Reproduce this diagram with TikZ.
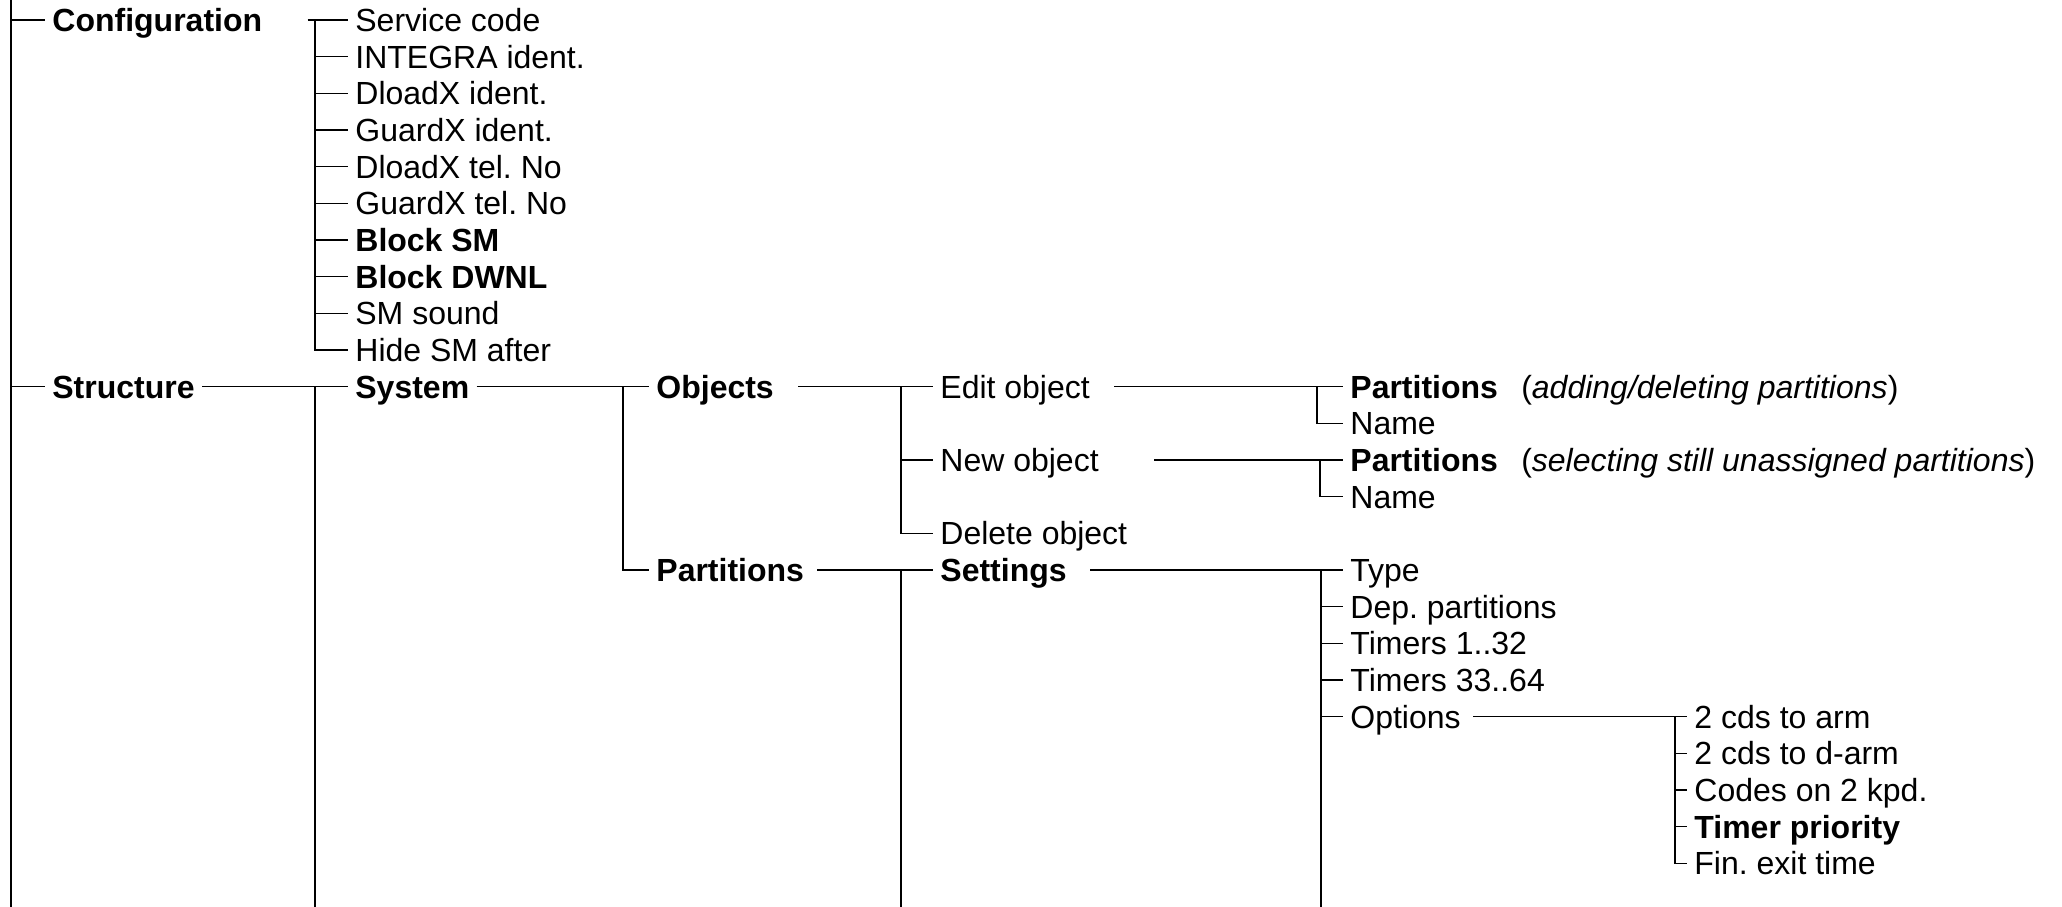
\documentclass[tikz,border=0pt]{standalone}
\usepackage{fontspec}
\setmainfont{Liberation Sans}
\usetikzlibrary{positioning}
\frenchspacing

\begin{document}
\begin{tikzpicture}[x=0.5pt, y=-18.333pt]
        \tikzstyle{item} = [anchor=west, inner xsep=3.5pt, inner ysep=0pt, text height=11.5pt, text depth=0pt, font=\fontsize{16pt}{19pt}\selectfont]
        \tikzstyle{bolditem} = [item, font=\fontsize{16pt}{19pt}\selectfont\bfseries]
        \tikzstyle{link} = [line width=0.75pt]
        \tikzstyle{trunk} = [line width=1pt]
        \useasboundingbox (0,-0.5455) rectangle (2062,24.19);

        \node (conf) [bolditem] at (45,0) {Configuration};
        \node (struct) [bolditem] at (45,10) {Structure};

        \node (svc) [item] at (348,0) {Service code};
        \node (integra) [item] at (348,1) {INTEGRA ident.};
        \node (dlid) [item] at (348,2) {DloadX ident.};
        \node (gxid) [item] at (348,3) {GuardX ident.};
        \node (dltel) [item] at (348,4) {DloadX tel. No};
        \node (gxtel) [item] at (348,5) {GuardX tel. No};
        \node (blocksm) [bolditem] at (348,6) {Block SM};
        \node (blockdwnl) [bolditem] at (348,7) {Block DWNL};
        \node (smsound) [item] at (348,8) {SM sound};
        \node (hidesm) [item] at (348,9) {Hide SM after};

        \node (sys) [bolditem] at (348,10) {System};
        \node (obj) [bolditem] at (649,10) {Objects};
        \node (parts) [bolditem] at (649,15) {Partitions};
        \node (editobj) [item] at (933,10) {Edit object};
        \node (newobj) [item] at (933,12) {New object};
        \node (delobj) [item] at (933,14) {Delete object};
        \node (settings) [bolditem] at (933,15) {Settings};

        \node (editparts) [item] at (1343,10) {\textbf{Partitions}\hspace{0.45em} (\textit{adding/deleting partitions})};
        \node (editname) [item] at (1343,11) {Name};
        \node (newparts) [item] at (1343,12) {\textbf{Partitions}\hspace{0.45em} (\textit{selecting still unassigned partitions})};
        \node (newname) [item] at (1343,13) {Name};

        \node (type) [item] at (1343,15) {Type};
        \node (dep) [item] at (1343,16) {Dep. partitions};
        \node (tim1) [item] at (1343,17) {Timers 1..32};
        \node (tim2) [item] at (1343,18) {Timers 33..64};
        \node (opts) [item] at (1343,19) {Options};

        \node (arm) [item] at (1687,19) {2 cds to arm};
        \node (darm) [item] at (1687,20) {2 cds to d-arm};
        \node (kpd) [item] at (1687,21) {Codes on 2 kpd.};
        \node (tprio) [bolditem] at (1687,22) {Timer priority};
        \node (finexit) [item] at (1687,23) {Fin. exit time};

        \coordinate (top0) at (11,-0.5455);
        \coordinate (end0) at (11,24.19);
        \coordinate (jconf) at (315,0);
        \coordinate (jsys) at (315,10);
        \coordinate (end1) at (315,24.19);
        \coordinate (jobj) at (623,10);
        \coordinate (jedit) at (901,10);
        \coordinate (jparts) at (901,15);
        \coordinate (end3) at (901,24.19);
        \coordinate (jeditobj) at (1317,10);
        \coordinate (jnewobj) at (1320,12);
        \coordinate (jset) at (1321,15);
        \coordinate (end4) at (1321,24.19);
        \coordinate (jopts) at (1675,19);

        \draw[trunk] (top0) -- (end0);
        \draw[link] (top0 |- conf) -- (conf.west);
        \draw[link] (top0 |- struct) -- (struct.west);

        \draw[link] ([xshift=19pt]conf.east) -- (svc.west);
        \draw[link] (jconf) |- (integra.west);
        \draw[link] (jconf) |- (dlid.west);
        \draw[link] (jconf) |- (gxid.west);
        \draw[link] (jconf) |- (dltel.west);
        \draw[link] (jconf) |- (gxtel.west);
        \draw[link] (jconf) |- (blocksm.west);
        \draw[link] (jconf) |- (blockdwnl.west);
        \draw[link] (jconf) |- (smsound.west);
        \draw[link] (jconf) |- (hidesm.west);

        \draw[link] (struct.east) -- (sys.west);
        \draw[trunk] (jsys) -- (end1);
        \draw[link] (sys.east) -- (obj.west);
        \draw[link] (jobj) |- (parts.west);

        \draw[link] ([xshift=8.5pt]obj.east) -- (editobj.west);
        \draw[link] (jedit) |- (newobj.west);
        \draw[link] (jedit) |- (delobj.west);
        \draw[link] ([xshift=3pt]parts.east) -- (settings.west);
        \draw[link] (jparts) -- (end3);

        \draw[link] ([xshift=8.5pt]editobj.east) -- (editparts.west);
        \draw[link] (jeditobj) |- (editname.west);
        \draw[link] ([xshift=24pt]newobj.east) -- (newparts.west);
        \draw[link] (jnewobj) |- (newname.west);

        \draw[link] ([xshift=8pt]settings.east) -- (type.west);
        \draw[link] (jset) -- (end4);
        \draw[link] (jset) |- (dep.west);
        \draw[link] (jset) |- (tim1.west);
        \draw[link] (jset) |- (tim2.west);
        \draw[link] (jset) |- (opts.west);

        \draw[link] ([xshift=2.5pt]opts.east) -- (arm.west);
        \draw[link] (jopts) |- (darm.west);
        \draw[link] (jopts) |- (kpd.west);
        \draw[link] (jopts) |- (tprio.west);
        \draw[link] (jopts) |- (finexit.west);
\end{tikzpicture}
\end{document}
